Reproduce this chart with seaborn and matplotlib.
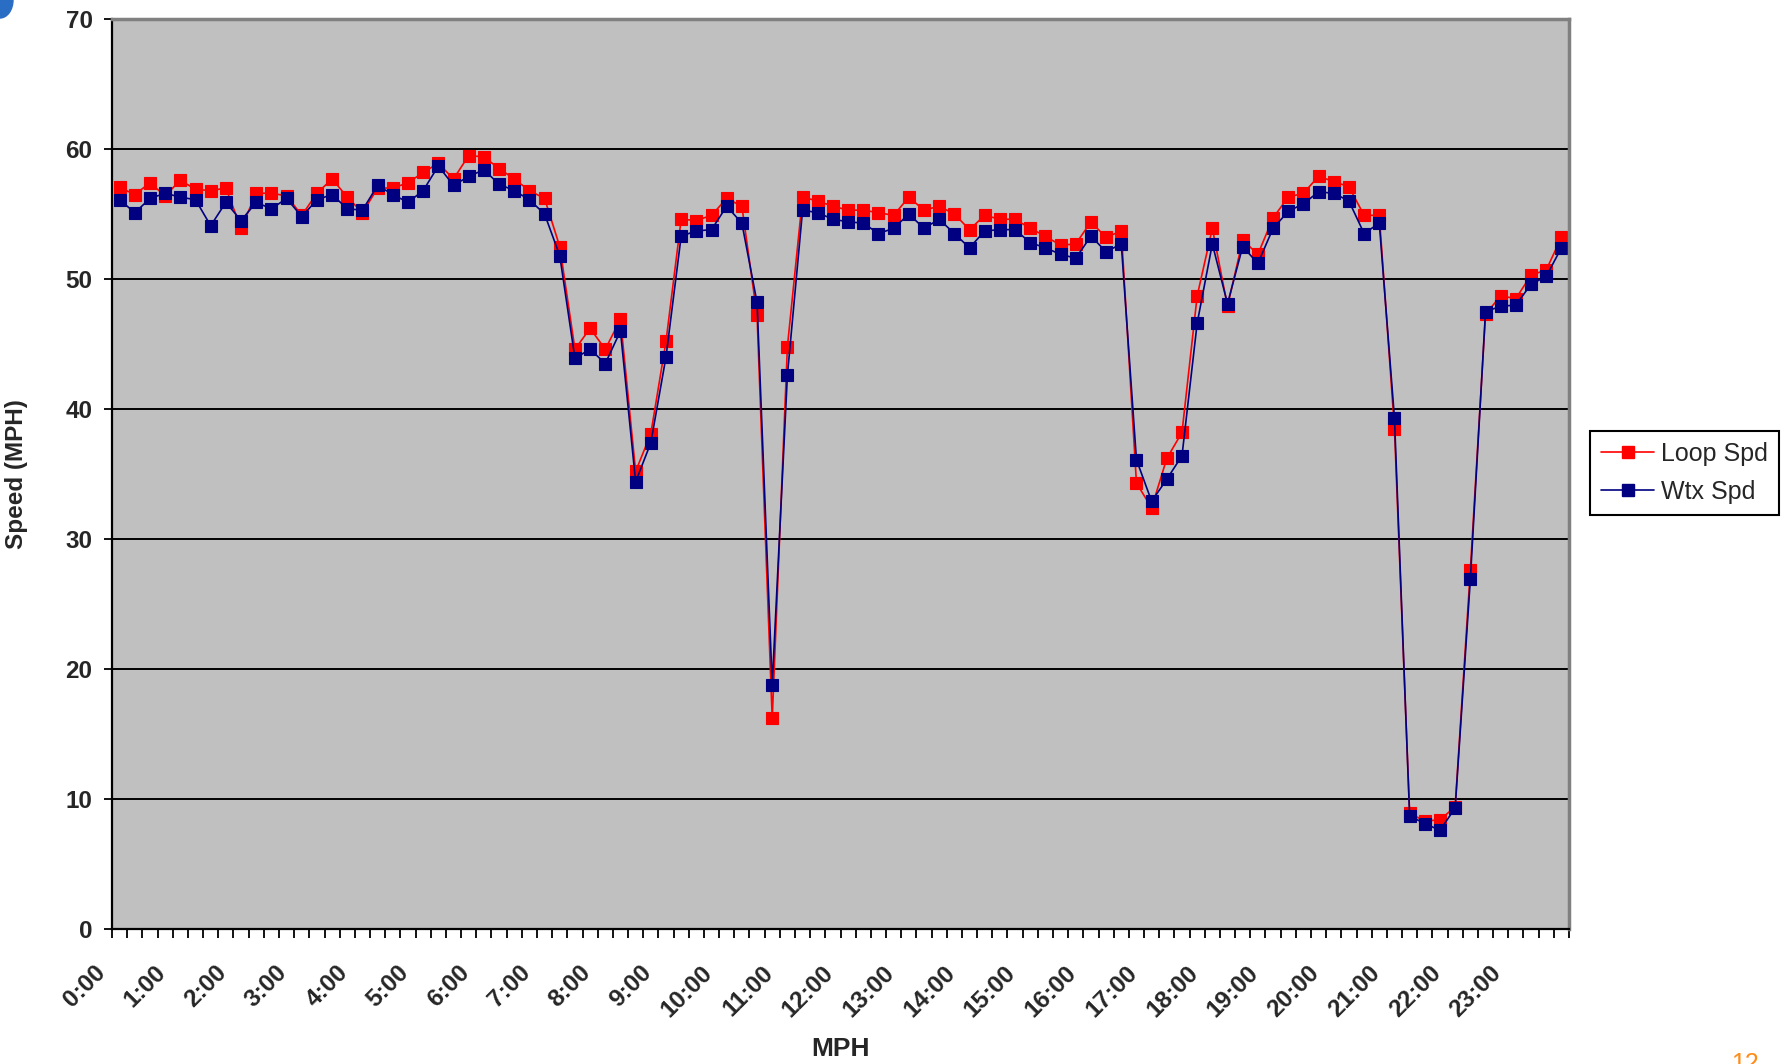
import pandas as pd
import matplotlib.pyplot as plt
import matplotlib.transforms as mtransforms
from matplotlib.lines import Line2D
from matplotlib.patches import Ellipse
import seaborn as sns

# 15-minute slots over one day
times = [f"{h}:{m:02d}" for h in range(24) for m in (0, 15, 30, 45)]
hour_labels = [f"{h}:00" for h in range(24)]

loop_spd = [
    57.05, 56.5, 57.4, 56.4, 57.6, 56.9, 56.8, 57.0, 53.9, 56.6,
    56.6, 56.4, 54.9, 56.6, 57.7, 56.3, 55.1, 57.0, 57.0, 57.4,
    58.2, 58.9, 57.7, 59.5, 59.4, 58.5, 57.7, 56.8, 56.2, 52.5,
    44.6, 46.2, 44.6, 46.9, 35.2, 38.1, 45.2, 54.6, 54.5, 54.9,
    56.2, 55.6, 47.2, 16.2, 44.8, 56.3, 56.0, 55.6, 55.3, 55.3,
    55.1, 54.9, 56.3, 55.3, 55.6, 55.0, 53.8, 54.9, 54.6, 54.6,
    53.9, 53.3, 52.6, 52.7, 54.4, 53.2, 53.7, 34.3, 32.4, 36.2,
    38.2, 48.7, 53.9, 47.9, 53.0, 51.9, 54.7, 56.3, 56.6, 57.9,
    57.5, 57.1, 54.9, 54.9, 38.5, 8.9, 8.3, 8.4, 9.4, 27.6,
    47.3, 48.7, 48.5, 50.3, 50.7, 53.2,
]
wtx_spd = [
    56.1, 55.1, 56.2, 56.6, 56.3, 56.1, 54.1, 55.9, 54.5, 55.9,
    55.4, 56.2, 54.8, 56.1, 56.5, 55.4, 55.3, 57.2, 56.5, 55.9,
    56.8, 58.7, 57.2, 57.9, 58.4, 57.3, 56.8, 56.1, 55.0, 51.8,
    43.9, 44.6, 43.5, 46.0, 34.4, 37.4, 44.0, 53.3, 53.7, 53.8,
    55.6, 54.3, 48.2, 18.8, 42.6, 55.3, 55.1, 54.6, 54.4, 54.3,
    53.5, 53.9, 55.0, 53.9, 54.6, 53.5, 52.4, 53.7, 53.8, 53.8,
    52.8, 52.4, 51.9, 51.6, 53.3, 52.1, 52.7, 36.1, 32.9, 34.6,
    36.4, 46.6, 52.7, 48.1, 52.5, 51.2, 53.9, 55.2, 55.8, 56.7,
    56.6, 56.0, 53.5, 54.3, 39.3, 8.7, 8.1, 7.6, 9.3, 26.9,
    47.5, 47.9, 48.0, 49.6, 50.2, 52.4,
]

series_names = ["Loop Spd", "Wtx Spd"]
colors = {"Loop Spd": "#FF0000", "Wtx Spd": "#000080"}

sns.set_theme(style="ticks")
plt.rcParams["font.family"] = ["Liberation Sans", "DejaVu Sans"]

n = len(times)
df = pd.concat([
    pd.DataFrame({"slot": range(n), "time": times, "speed": loop_spd, "series": "Loop Spd"}),
    pd.DataFrame({"slot": range(n), "time": times, "speed": wtx_spd, "series": "Wtx Spd"}),
])

fig = plt.figure(figsize=(17.87, 10.64), dpi=100)
ax = fig.add_axes([0.0627, 0.1269, 0.8153, 0.8552])
ax.set_facecolor("#C0C0C0")

sns.lineplot(data=df, x="slot", y="speed", hue="series", hue_order=series_names,
             palette=colors, marker="s", markersize=8.5, markeredgewidth=0.8,
             linewidth=1.2, errorbar=None, legend=False, ax=ax)
# Excel-style markers: edge in the same colour as the fill
for line in ax.get_lines():
    line.set_markeredgecolor(line.get_color())

ax.set_xlim(-0.5, n - 0.5)
ax.set_ylim(0, 70)
ax.set_yticks(range(0, 71, 10))
for y in range(10, 70, 10):
    ax.axhline(y, color="black", lw=1.4, zorder=0.5)

ax.set_xticks(range(0, n, 4))
ax.set_xticklabels(hour_labels)
ax.set_xticks([i - 0.5 for i in range(n + 1)], minor=True)
ax.tick_params(axis="x", which="major", length=0, pad=29)
ax.tick_params(axis="x", which="minor", length=6.5, width=1.3, color="black", direction="out")
ax.tick_params(axis="y", length=6, width=1.3, color="black", direction="out", pad=8)
ax.tick_params(labelsize=17.5)

shift = mtransforms.ScaledTranslation(-0.18, 0, fig.dpi_scale_trans)
for lab in ax.get_xticklabels():
    lab.set_rotation(45)
    lab.set_rotation_mode("anchor")
    lab.set_ha("right")
    lab.set_va("center")
    lab.set_fontweight("bold")
    lab.set_transform(lab.get_transform() + shift)
for lab in ax.get_yticklabels():
    lab.set_fontweight("bold")

for side in ["left", "bottom"]:
    ax.spines[side].set_color("black")
    ax.spines[side].set_linewidth(1.6)
for side in ["top", "right"]:
    ax.spines[side].set_visible(True)
    ax.spines[side].set_color("#808080")
    ax.spines[side].set_linewidth(2.5)

ax.set_xlabel("")
ax.set_ylabel("Speed (MPH)", fontsize=17.5, fontweight="bold")
ax.yaxis.set_label_coords(-0.058, 0.5)
fig.text(0.4705, 0.0145, "MPH", ha="center", va="center", fontsize=19, fontweight="bold")

handles = [Line2D([], [], color=colors[s], marker="s", markersize=8.5, lw=1.2,
                  markeredgecolor=colors[s]) for s in series_names]
leg = fig.legend(handles, series_names, loc="upper left", bbox_to_anchor=(0.8898, 0.595),
                 fontsize=18, frameon=True, fancybox=False, borderpad=0.45,
                 handlelength=2.1, handletextpad=0.3, labelspacing=0.55, borderaxespad=0)
leg.get_frame().set_edgecolor("black")
leg.get_frame().set_linewidth(1.5)
leg.get_frame().set_facecolor("white")
leg.get_frame().set_alpha(1)

# slide decorations: corner swoosh and page number
fig.patches.append(Ellipse((0, 1), 2 * 13 / 1787, 2 * 18 / 1064, transform=fig.transFigure,
                           color="#2A6DC4", zorder=5))
fig.text(0.969, 0.011, "12", color="#FF8C1A", fontsize=18, ha="left", va="top")

fig.savefig("out.png", dpi=100, facecolor="white")
